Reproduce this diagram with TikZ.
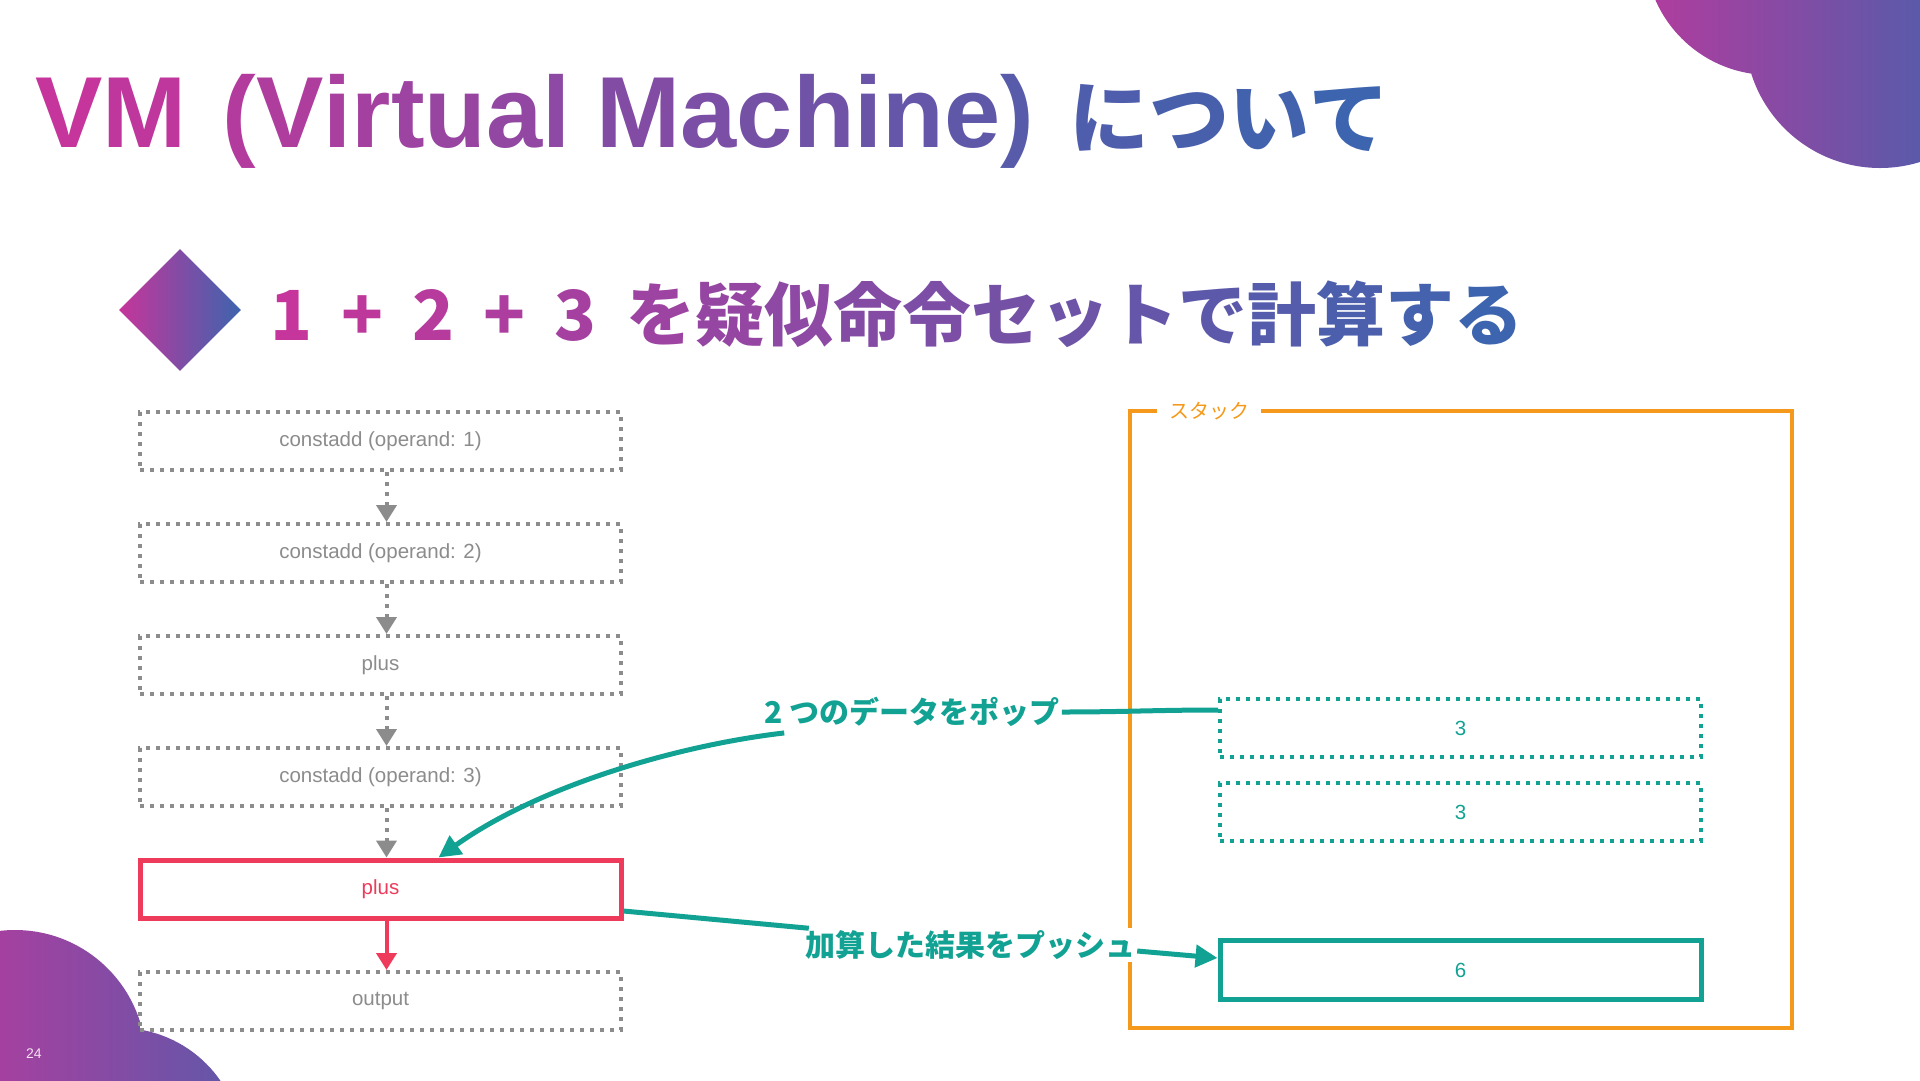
\documentclass[tikz,border=0pt]{standalone}
\usepackage{fontspec}
\setmainfont{Liberation Sans}
\newfontfamily\jp{Noto Sans CJK JP}
\usetikzlibrary{positioning,arrows.meta,shapes.geometric}

\definecolor{vmmag}{HTML}{C6359B}
\definecolor{vmblue}{HTML}{3D64AE}
\definecolor{vmgray}{HTML}{8C8C8C}
\definecolor{vmred}{HTML}{EE3B5B}
\definecolor{vmteal}{HTML}{12A293}
\definecolor{vmorange}{HTML}{F5991C}

% colour each item of a list between magenta and blue
\newcommand\gradlist[3]{\foreach \gch [count=\gi from #1] in {#3}{%
  \pgfmathtruncatemacro\gpct{100-100*\gi/#2}\textcolor{vmmag!\gpct!vmblue}{\gch}}}

\tikzset{
  titletext/.style={inner sep=0pt, font=\fontsize{101}{101}\selectfont\bfseries},
  subtext/.style={inner sep=0pt, font=\jp\fontsize{69}{69}\selectfont\bfseries},
  op/.style={draw=vmgray, line width=4pt, dash pattern=on 4pt off 6pt, fill=white,
    minimum width=481, minimum height=58, text=vmgray, font=\fontsize{20.5}{24}\selectfont},
  curop/.style={op, draw=vmred, line width=5pt, solid, text=vmred},
  slot/.style={op, draw=vmteal, text=vmteal},
  newslot/.style={slot, line width=5pt, solid, minimum height=59},
  flow/.style={vmgray, line width=4pt, dash pattern=on 4pt off 6pt, -{Triangle[width=20pt,length=17pt]}},
  note/.style={fill=white, text=vmteal, inner sep=2pt, font=\jp\fontsize{30}{30}\selectfont\bfseries},
  noteline/.style={vmteal, line width=5pt},
}

\begin{document}
\begin{tikzpicture}[x=1pt, y=-1pt, node distance=112pt, on grid]
  \useasboundingbox (0,0) rectangle (1920,1080);
  % corner decorations
  \begin{scope}
    \clip (0,0) rectangle (1920,1080);
    \shade[left color=vmmag!85!vmblue, right color=vmblue] (1770,-50) circle (125) (1880,33) circle (135);
    \shade[left color=vmmag, right color=vmblue!75!vmmag] (15,1061) circle (131) (120,1150) circle (122);
  \end{scope}
  \node[text=white!85!vmmag, font=\fontsize{14}{14}\selectfont] (page) at (34,1054) {24};

  % headings
  \node[titletext, anchor=base west] (title) at (35,147)
    {\gradlist{0}{24}{V,M,\hspace{36pt},{(},V,i,r,t,u,a,l,\hspace{26pt},M,a,c,h,i,n,e,{)},\hspace{35pt}}%
     {\jp\fontsize{80}{80}\selectfont\gradlist{21}{24}{に,つ,い,て}}};
  \node[diamond, minimum size=122, inner sep=0pt, left color=vmmag, right color=vmblue] (bullet) at (180,310) {};
  \node[subtext, anchor=base west] (sub) at (270,340)
    {\gradlist{0}{17}{1,\hspace{29pt}+,\hspace{29pt}2,\hspace{29pt}+,\hspace{29pt}3}\hspace{30pt}%
     \gradlist{5}{17}{を,疑,似,命,令,セ,ッ,ト,で,計,算,す,る}};

  % instructions
  \node[op] (b1) at (380.5,441) {constadd (operand: 1)};
  \node[op] (b2) [below=of b1] {constadd (operand: 2)};
  \node[op] (b3) [below=of b2] {plus};
  \node[op] (b4) [below=of b3] {constadd (operand: 3)};
  \node[curop] (b5) [below=of b4] {plus};
  \node[op] (b6) [below=of b5] {output};
  \foreach \a/\b in {b1/b2,b2/b3,b3/b4,b4/b5}
    \draw[flow] ([xshift=6pt]\a.south) -- ([xshift=6pt]\b.north);
  \draw[vmred, line width=4pt, -{Triangle[width=20pt,length=17pt]}] ([xshift=6pt]b5.south) -- ([xshift=6pt]b6.north);

  % stack
  \node[draw=vmorange, line width=4pt, minimum width=662, minimum height=617] (stack) at (1461,719.5) {};
  \node[fill=white, text=vmorange, font=\jp\fontsize{20}{20}\selectfont, inner xsep=12pt, inner ysep=2pt] (stacklabel) at (1209,411) {スタック};
  \node[slot] (s1) at (1460.5,728) {3};
  \node[slot] (s2) [below=84pt of s1] {3};
  \node[newslot] (s3) [below=158pt of s2] {6};

  % pop and push
  \node[note] (pop) at (912,712) {2 つのデータをポップ};
  \node[note] (push) at (970,945) {加算した結果をプッシュ};
  \draw[noteline] ([yshift=-13pt]s1.north west) to[out=180,in=0] (pop.east);
  \draw[noteline, -{Triangle[width=22pt,length=22pt]}] ([xshift=22pt,yshift=-4pt]pop.south west)
    .. controls (680,745) and (540,785) .. ([xshift=58pt]b5.north);
  \draw[noteline] ([yshift=-22pt]b5.east) -- ([xshift=6pt]push.north west);
  \draw[noteline, -{Triangle[width=22pt,length=22pt]}] ([yshift=-6pt]push.east) -- ([yshift=12pt]s3.west);
\end{tikzpicture}
\end{document}
